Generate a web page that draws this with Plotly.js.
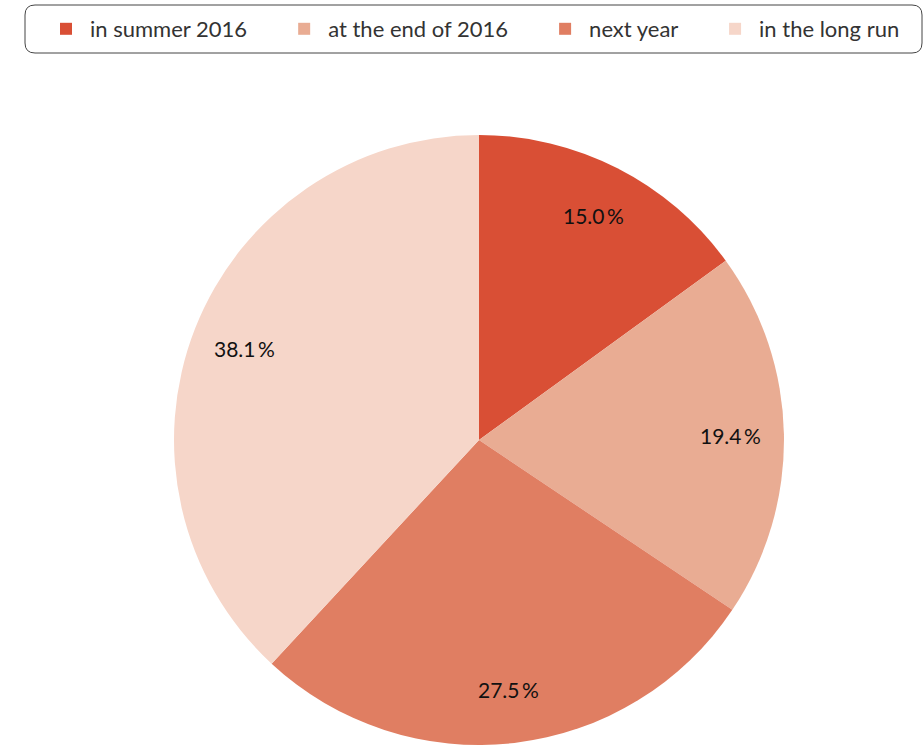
<!DOCTYPE html>
<html><head><meta charset="utf-8">
<script src="https://cdn.plot.ly/plotly-3.0.1.min.js"></script>
<style>html,body{margin:0;padding:0;background:#fff}</style>
</head><body><div id="chart" style="width:923px;height:751px"></div>
<script>
const categories = ["in summer 2016", "at the end of 2016", "next year", "in the long run"];
const values = [15.0, 19.4, 27.5, 38.1];
const colors = ["#D94F35", "#E9AC93", "#E07E62", "#F6D6C9"];

const W = 923, H = 751;
function px(x){return x/W;}
function py(y){return 1 - y/H;}
// pie geometry (pixels)
const pieL = 174, pieR = 784, pieT = 135, pieB = 745;
const cx = (pieL+pieR)/2, cy = (pieT+pieB)/2, R = (pieR-pieL)/2;
const labelFrac = 0.825;

// rounded legend frame
const bx0=25,bx1=922,by0=5,by1=53,r=10;
function P(x,y){return px(x)+','+py(y);}
const framePath = 'M'+P(bx0+r,by0)+' L'+P(bx1-r,by0)+' Q'+P(bx1,by0)+' '+P(bx1,by0+r)+
 ' L'+P(bx1,by1-r)+' Q'+P(bx1,by1)+' '+P(bx1-r,by1)+' L'+P(bx0+r,by1)+' Q'+P(bx0,by1)+' '+P(bx0,by1-r)+
 ' L'+P(bx0,by0+r)+' Q'+P(bx0,by0)+' '+P(bx0+r,by0)+' Z';

const pad = '\u00a0'.repeat(5);
const legendLabels = categories.map((c,i) => i < categories.length-1 ? c + pad : c);

const trace = {
  type: 'pie',
  labels: legendLabels,
  values: values,
  sort: false,
  direction: 'clockwise',
  rotation: 0,
  marker: {colors: colors, line: {width: 0}},
  textinfo: 'none',
  hoverinfo: 'label+value',
  domain: {x: [pieL/W, pieR/W], y: [py(pieB), py(pieT)]}
};

// value labels placed from the data's cumulative angles
const total = values.reduce((a,b)=>a+b,0);
let cum = 0;
const annotations = values.map(v => {
  const mid = (cum + v/2)/total * 2*Math.PI; cum += v;
  const x = cx + Math.sin(mid)*R*labelFrac, y = cy - Math.cos(mid)*R*labelFrac;
  return {xref:'paper', yref:'paper', x: px(x), y: py(y), showarrow:false,
    text: v.toFixed(1) + '\u2009%', xanchor:'center', yanchor:'middle',
    font: {family: 'Lato, "DejaVu Sans", sans-serif', size: 21, color: '#111'}};
});

const layout = {
  width: W, height: H,
  margin: {l:0, r:0, t:0, b:0},
  paper_bgcolor: '#fff',
  showlegend: true,
  legend: {
    orientation: 'h', x: px(42), y: py(8), xanchor: 'left', yanchor: 'top',
    font: {family: 'Lato, "DejaVu Sans", sans-serif', size: 22, color: '#333'},
    bgcolor: 'rgba(0,0,0,0)', borderwidth: 0, traceorder: 'normal', itemwidth: 38
  },
  annotations: annotations,
  shapes: [{type:'path', xref:'paper', yref:'paper', path: framePath, line:{color:'#444', width:1}, fillcolor:'rgba(0,0,0,0)'}]
};
Plotly.newPlot('chart', [trace], layout, {displayModeBar:false, staticPlot:true});
</script></body></html>
